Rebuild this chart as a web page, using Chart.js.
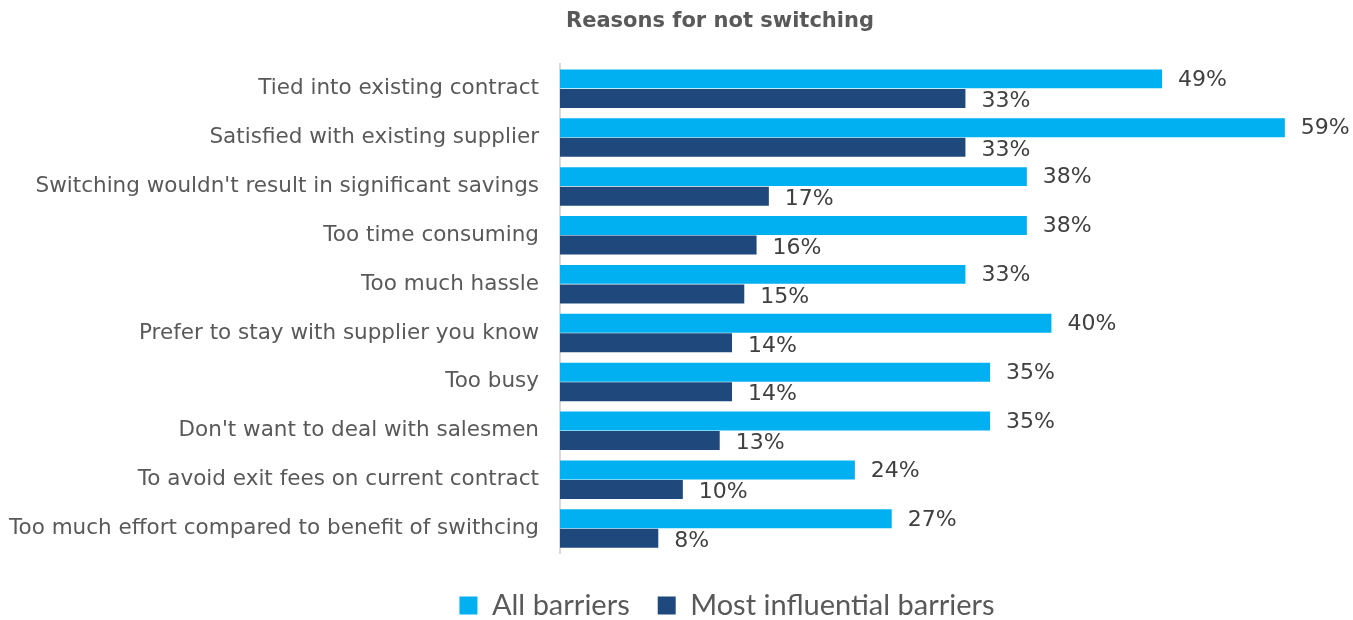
<!DOCTYPE html>
<html>
<head>
<meta charset="utf-8">
<script src="https://cdn.jsdelivr.net/npm/chart.js@4/dist/chart.umd.min.js"></script>
<style>
  html, body { margin: 0; padding: 0; background: #fff; }
  #wrap { width: 1353px; height: 620px; }
</style>
</head>
<body>
<div id="wrap"><canvas id="myChart"></canvas></div>
<script>
const labels = [
  'Tied into existing contract',
  'Satisfied with existing supplier',
  "Switching wouldn't result in significant savings",
  'Too time consuming',
  'Too much hassle',
  'Prefer to stay with supplier you know',
  'Too busy',
  "Don't want to deal with salesmen",
  'To avoid exit fees on current contract',
  'Too much effort compared to benefit of swithcing'
];
const allBarriers = [49, 59, 38, 38, 33, 40, 35, 35, 24, 27];
const mostInfluential = [33, 33, 17, 16, 15, 14, 14, 13, 10, 8];

const lightBlue = '#00B0F0';
const darkBlue = '#1F497D';

// title and legend sit a bit right of centre in the original
const shiftBoxes = {
  id: 'shiftBoxes',
  afterLayout(chart) {
    const t = chart.titleBlock;
    if (t) { t.left += 53; t.right += 53; }
    const l = chart.legend;
    if (l) { l.left += 60; l.right += 60; l.top += 10; l.bottom += 10; }
  }
};

// value labels at end of each bar
const barValues = {
  id: 'barValues',
  afterDatasetsDraw(chart) {
    const ctx = chart.ctx;
    ctx.save();
    ctx.font = '22px "DejaVu Sans"';
    ctx.fillStyle = '#404040';
    ctx.textAlign = 'left';
    ctx.textBaseline = 'middle';
    chart.data.datasets.forEach((ds, i) => {
      chart.getDatasetMeta(i).data.forEach((bar, j) => {
        ctx.fillText(ds.data[j] + '%', bar.x + 16, bar.y + (i === 0 ? 1 : 3));
      });
    });
    ctx.restore();
  }
};

let ctx = document.querySelector('#myChart');

let grafico = new Chart(ctx, {
  type: 'bar',
  data: {
    labels: labels,
    datasets: [
      {
        label: 'All barriers',
        data: allBarriers,
        backgroundColor: lightBlue,
        categoryPercentage: 0.8,
        barPercentage: 0.97
      },
      {
        label: 'Most influential barriers',
        data: mostInfluential,
        backgroundColor: darkBlue,
        categoryPercentage: 0.8,
        barPercentage: 0.97
      }
    ]
  },
  options: {
    indexAxis: 'y',
    responsive: true,
    maintainAspectRatio: false,
    animation: false,
    layout: { padding: { left: 0, right: 19, top: 0, bottom: 0 } },
    scales: {
      x: {
        display: false,
        min: 0,
        max: 63
      },
      y: {
        afterFit(scale) { scale.width = 560; },
        grid: { display: false },
        border: { display: true, color: '#d9d9d9', width: 2 },
        ticks: {
          padding: 13,
          color: '#595959',
          font: { family: 'DejaVu Sans', size: 21.5 }
        }
      }
    },
    plugins: {
      title: {
        display: true,
        text: 'Reasons for not switching',
        color: '#595959',
        font: { family: 'DejaVu Sans', size: 21, weight: 'bold' },
        padding: { top: 9, bottom: 30 }
      },
      legend: {
        position: 'bottom',
        labels: {
          color: '#595959',
          font: { family: 'Lato', size: 29 },
          boxWidth: 18,
          boxHeight: 18,
          padding: 28,
          useBorderRadius: false
        }
      },
      tooltip: { enabled: false }
    }
  },
  plugins: [shiftBoxes, barValues]
});
</script>
</body>
</html>
